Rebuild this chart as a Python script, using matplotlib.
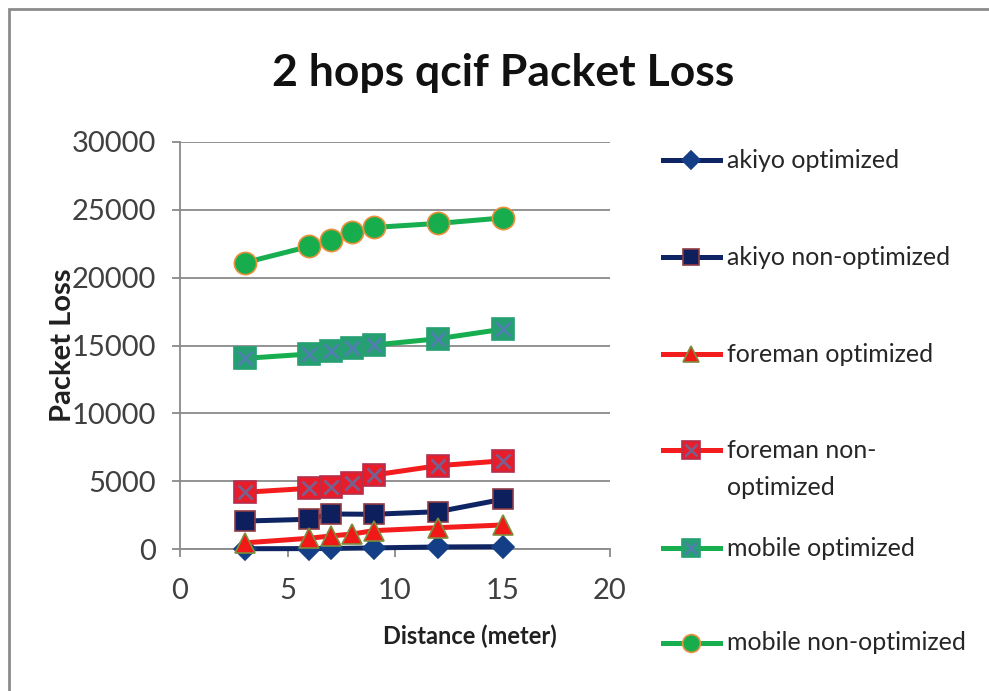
import matplotlib.pyplot as plt
from matplotlib.lines import Line2D
from matplotlib.patches import Rectangle

plt.rcParams['font.family'] = ['Lato', 'DejaVu Sans']

# distances (meter)
dist_full = [3, 6, 7, 8, 9, 12, 15]
dist_akiyo = [3, 6, 7, 9, 12, 15]

akiyo_opt = [20, 30, 40, 80, 150, 170]
akiyo_nonopt = [2060, 2190, 2580, 2560, 2750, 3660]
foreman_opt = [450, 790, 960, 1100, 1350, 1570, 1770]
foreman_nonopt = [4180, 4470, 4550, 4840, 5450, 6140, 6500]
mobile_opt = [14050, 14370, 14600, 14830, 15030, 15500, 16200]
mobile_nonopt = [21100, 22300, 22750, 23400, 23700, 24000, 24400]

labels = ['akiyo optimized', 'akiyo non-optimized', 'foreman optimized',
          'foreman non-\noptimized', 'mobile optimized', 'mobile non-optimized']

NAVY = '#0f2462'
RED = '#f41d1d'
GREEN = '#17ae4f'

# (x, y, line colour, marker, size, face, edge, overlay marker colour)
series = [
    (dist_akiyo, akiyo_opt, NAVY, 'D', 11, '#143f86', '#143f86', None),
    (dist_akiyo, akiyo_nonopt, NAVY, 's', 15, '#0d1f5c', '#8e3b45', None),
    (dist_full, foreman_opt, RED, '^', 15, '#f21818', '#7a8e3c', None),
    (dist_full, foreman_nonopt, RED, 's', 16, '#e91d2a', '#b23050', '#7a5f8e'),
    (dist_full, mobile_opt, GREEN, 's', 16, '#26a072', '#26a072', '#4f7fae'),
    (dist_full, mobile_nonopt, GREEN, 'o', 16, '#18ad4c', '#e8913c', None),
]

W, H = 989, 691
fig = plt.figure(figsize=(W / 100, H / 100), dpi=100)
ax = fig.add_axes([180 / W, 1 - 549 / H, 430 / W, 407 / H])

for x, y, lc, m, ms, fc, ec, xc in series:
    ax.plot(x, y, color=lc, lw=3.6, marker=m, ms=ms, mfc=fc, mec=ec,
            mew=1.2, clip_on=False, zorder=3)
    if xc:
        ax.plot(x, y, ls='none', marker='x', ms=ms * 0.6, mec=xc, mew=2,
                clip_on=False, zorder=4)

ax.set_xlim(0, 20)
ax.set_ylim(0, 30000)
ax.set_xticks([0, 5, 10, 15, 20])
ax.set_yticks(range(0, 30001, 5000))
ax.yaxis.grid(True, color='#8a8a8a', lw=1.3)
ax.set_axisbelow(True)
for s in ['top', 'right']:
    ax.spines[s].set_visible(False)
for s in ['left', 'bottom']:
    ax.spines[s].set_color('#8a8a8a')
    ax.spines[s].set_linewidth(1.3)
ax.tick_params(axis='both', colors='#8a8a8a', width=1.3, length=6,
               labelsize=21, labelcolor='#404040')
ax.tick_params(axis='y', pad=11)
ax.tick_params(axis='x', pad=15)

ax.set_xlabel('Distance (meter)', fontsize=17, fontweight='bold',
              color='#202020')
ax.xaxis.set_label_coords((470 - 180) / 430, (549 - 625) / 407)
ax.set_ylabel('Packet Loss', fontsize=21, fontweight='bold',
              color='#202020')
ax.yaxis.set_label_coords((76 - 180) / 430, (549 - 345) / 407)
fig.text(503 / W, 1 - 73 / H, '2 hops qcif Packet Loss', fontsize=32,
         fontweight='bold', ha='center', va='center', color='#111111')

# legend, laid out like the spreadsheet one
leg_y = [160, 257, 354, 450, 548, 643]
for (x, y, lc, m, ms, fc, ec, xc), lab, py in zip(series, labels, leg_y):
    fy = 1 - py / H
    fig.add_artist(Line2D([663 / W, 720 / W], [fy, fy], color=lc, lw=3.6,
                          transform=fig.transFigure))
    fig.add_artist(Line2D([691 / W], [fy], marker=m, ms=ms * 0.8, mfc=fc,
                          mec=ec, mew=1.2, transform=fig.transFigure))
    if xc:
        fig.add_artist(Line2D([691 / W], [fy], marker='x', ms=ms * 0.5,
                              mec=xc, mew=1.8, transform=fig.transFigure))
    if '\n' in lab:
        fig.text(727 / W, 1 - (py - 11) / H, lab, fontsize=18,
                 color='#262626', ha='left', va='top', linespacing=1.75)
    else:
        fig.text(727 / W, fy, lab, fontsize=18, color='#262626',
                 ha='left', va='center')

# chart border
fig.add_artist(Rectangle((9 / W, -0.01), 1.0, 1 - 9 / H + 0.01, fill=False,
                         ec='#8c8c8c', lw=2, transform=fig.transFigure))

fig.savefig('out.png', dpi=100)
